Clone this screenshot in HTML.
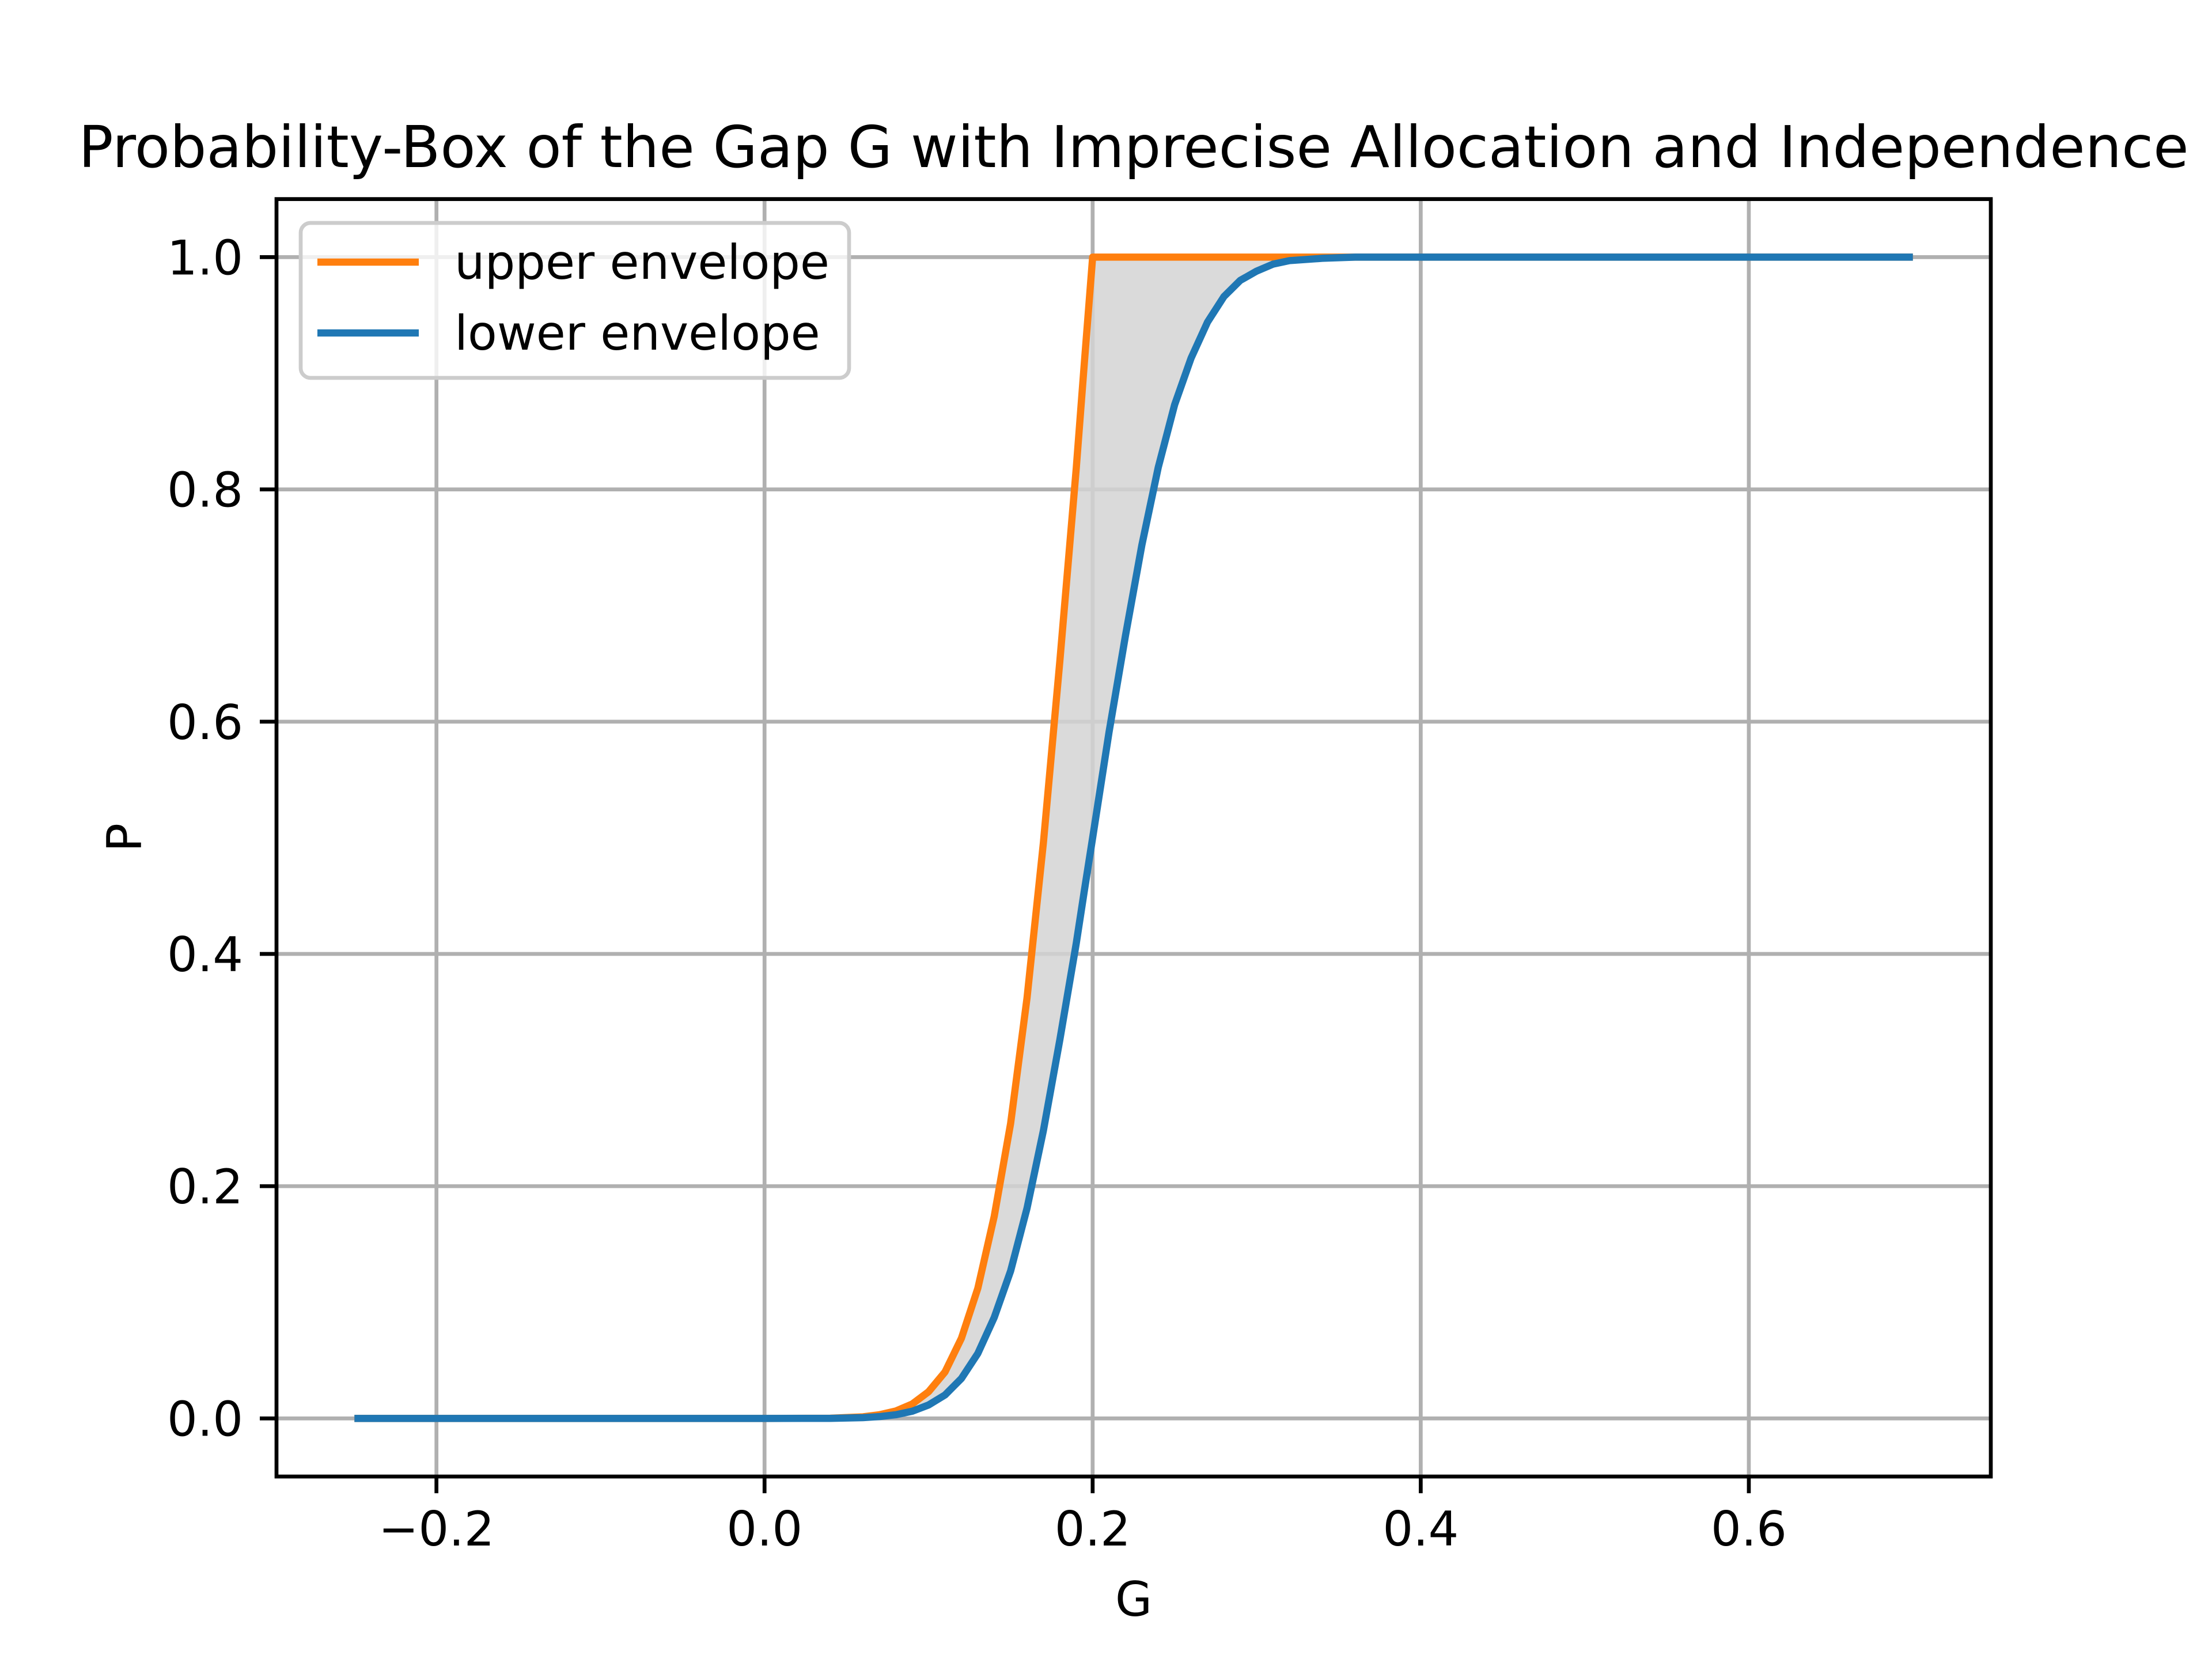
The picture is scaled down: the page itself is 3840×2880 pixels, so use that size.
<!DOCTYPE html>
<html><head><meta charset="utf-8"><style>html,body{margin:0;padding:0;background:#fff}svg{display:block}</style></head>
<body>
<svg id="chart" width="3840" height="2880" xmlns="http://www.w3.org/2000/svg" font-family="'DejaVu Sans','Liberation Sans',sans-serif">
<rect width="3840" height="2880" fill="#fff"/>
<g id="grid"></g><g id="marks"></g><g id="axes"></g>
<text x="1968" y="290" font-size="100" text-anchor="middle">Probability-Box of the Gap G with Imprecise Allocation and Independence</text>
<text x="1968" y="2805" font-size="83" text-anchor="middle">G</text>
<text x="0" y="0" font-size="83" text-anchor="middle" transform="translate(245,1454) rotate(-90)">P</text>
<g>
<rect x="522" y="387" width="952" height="269" rx="17" fill="#fff" fill-opacity="0.8" stroke="#ccc" stroke-width="6.7"/>
<line x1="551" y1="455" x2="727" y2="455" stroke="#ff7f0e" stroke-width="12.5"/>
<text x="789" y="484" font-size="83">upper envelope</text>
<line x1="551" y1="578" x2="727" y2="578" stroke="#1f77b4" stroke-width="12.5"/>
<text x="789" y="607" font-size="83">lower envelope</text>
</g>
</svg>
<script>
const gVals = [-0.25,0.0,0.04,0.06,0.07,0.08,0.09,0.10,0.11,0.12,0.13,0.14,0.15,0.16,0.17,0.18,0.19,0.195,0.2,0.21,0.22,0.23,0.24,0.25,0.26,0.27,0.28,0.29,0.30,0.31,0.32,0.33,0.34,0.36,0.7];
const upperVals = [0,0,0.0002,0.0014,0.0032,0.0064,0.0124,0.023,0.040,0.069,0.112,0.174,0.254,0.362,0.496,0.652,0.818,0.91,1,1,1,1,1,1,1,1,1,1,1,1,1,1,1,1,1];
const lowerVals = [0,0,0.0001,0.0007,0.0016,0.0032,0.0062,0.0116,0.0202,0.0344,0.0559,0.0869,0.127,0.181,0.248,0.326,0.409,0.455,0.5,0.591,0.674,0.752,0.819,0.873,0.913,0.944,0.966,0.980,0.988,0.994,0.997,0.998,0.999,1,1];
const xTicks = [-0.2,0.0,0.2,0.4,0.6];
const yTicks = [0.0,0.2,0.4,0.6,0.8,1.0];
const L=480,R=3456,T=345.6,B=2563.2;
const x0=-0.2975,x1=0.7475,y0=-0.05,y1=1.05;
const X=v=>L+(v-x0)/(x1-x0)*(R-L);
const Y=v=>B-(v-y0)/(y1-y0)*(B-T);
const NS='http://www.w3.org/2000/svg';
function mk(tag,attrs,parent){const e=document.createElementNS(NS,tag);for(const k in attrs)e.setAttribute(k,attrs[k]);parent.appendChild(e);return e;}
const grid=document.getElementById('grid'),marks=document.getElementById('marks'),axes=document.getElementById('axes');
const fmt=v=>(v<0?'\u2212':'')+Math.abs(v).toFixed(1);
xTicks.forEach(v=>{
 const gl=mk('line',{x1:X(v),x2:X(v),y1:T,y2:B,stroke:'#b0b0b0','stroke-width':6.7},grid);
 
 
 mk('line',{x1:X(v),x2:X(v),y1:B,y2:B+29,stroke:'#000','stroke-width':6.7},axes);
 const t=mk('text',{x:X(v),y:B+58+62,'font-size':83,'text-anchor':'middle'},axes);
 t.textContent=fmt(v);
 
 
});
yTicks.forEach(v=>{
 const gl=mk('line',{x1:L,x2:R,y1:Y(v),y2:Y(v),stroke:'#b0b0b0','stroke-width':6.7},grid);
 
 
 mk('line',{x1:L-29,x2:L,y1:Y(v),y2:Y(v),stroke:'#000','stroke-width':6.7},axes);
 const t=mk('text',{x:L-58,y:Y(v)+30,'font-size':83,'text-anchor':'end'},axes);
 t.textContent=fmt(v);
 
 
});
let fill='';
gVals.forEach((g,i)=>{fill+=(i?'L':'M')+X(g)+','+Y(upperVals[i]);});
for(let i=gVals.length-1;i>=0;i--)fill+='L'+X(gVals[i])+','+Y(lowerVals[i]);
const fp=mk('path',{d:fill+'Z',fill:'#d3d3d3','fill-opacity':0.85},marks);


function line(vals,color,name){
 const d=gVals.map((g,i)=>(i?'L':'M')+X(g)+','+Y(vals[i])).join('');
 const p=mk('path',{d:d,fill:'none',stroke:color,'stroke-width':12.5,'stroke-linejoin':'round'},marks);
 
 
}
line(upperVals,'#ff7f0e','upper-envelope-line');
line(lowerVals,'#1f77b4','lower-envelope-line');
const fr=mk('rect',{x:L,y:T,width:R-L,height:B-T,fill:'none',stroke:'#000','stroke-width':6.7},axes);


</script>
</body></html>
